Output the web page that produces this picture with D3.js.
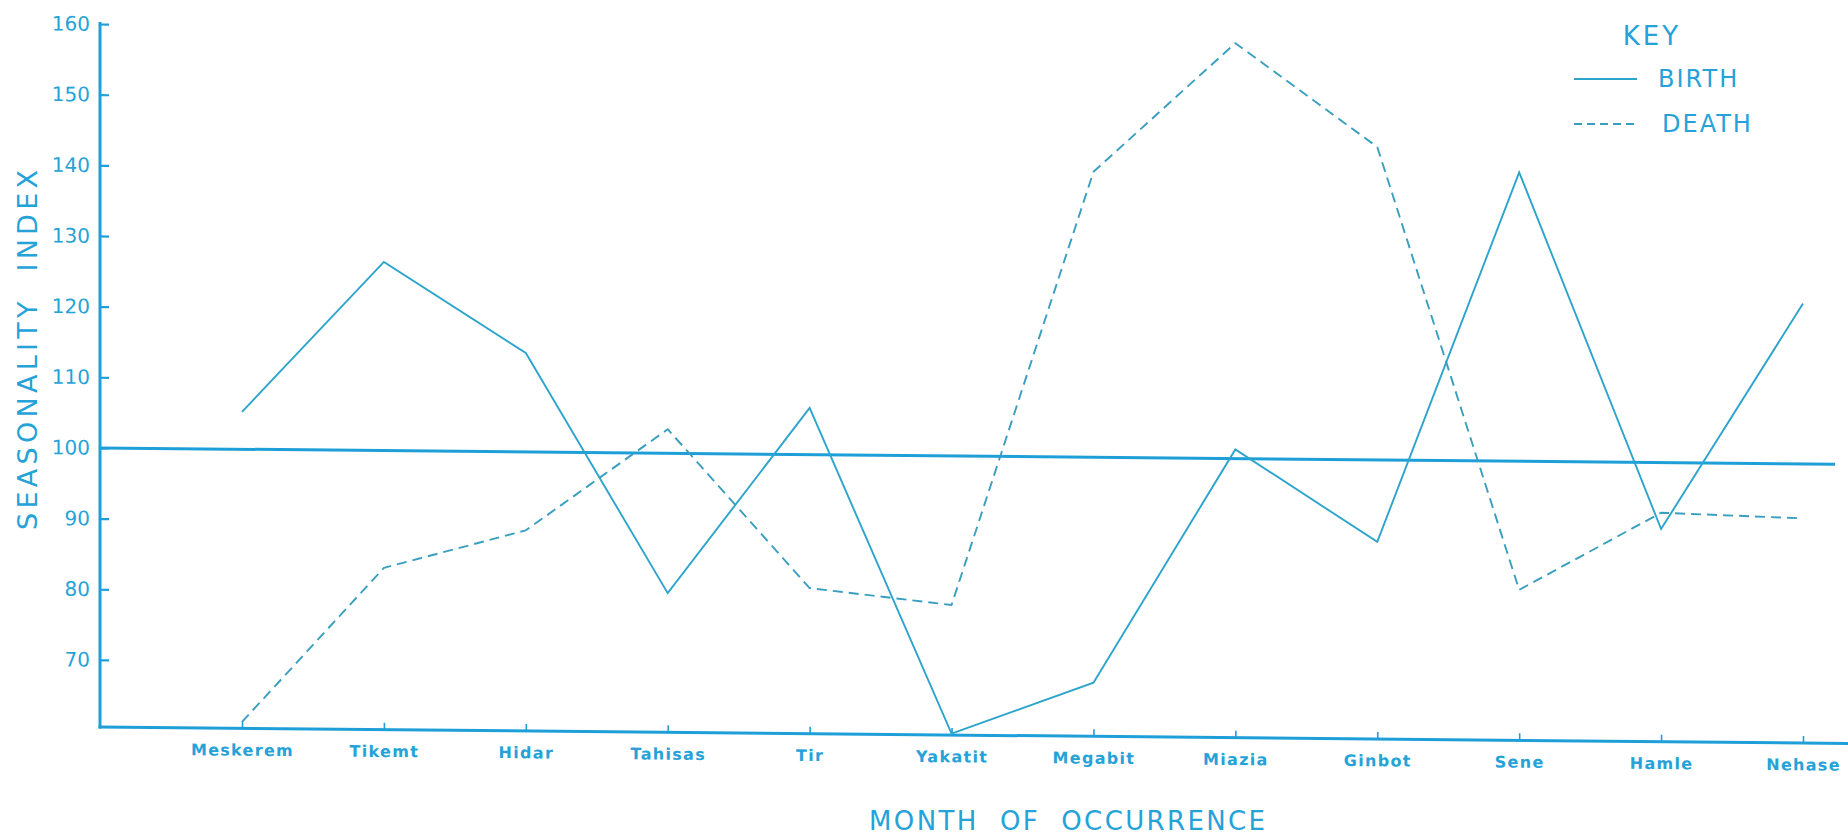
<!DOCTYPE html>
<html>
<head>
<meta charset="utf-8">
<script src="https://cdn.jsdelivr.net/npm/d3@7/dist/d3.min.js"></script>
<style>
  html, body { margin: 0; padding: 0; background: #ffffff; }
  svg { display: block; }
</style>
</head>
<body>
<svg id="chart" width="1848" height="835"></svg>
<script>
// ---- data ----
const months = ["Meskerem", "Tikemt", "Hidar", "Tahisas", "Tir", "Yakatit",
                "Megabit", "Miazia", "Ginbot", "Sene", "Hamle", "Nehase"];
const birth = [105.3, 126.7, 114.0, 80.2, 106.6, 60.7, 68.1, 101.3, 88.4, 140.9, 90.6, 122.7];
const death = [61.4, 83.4, 88.9, 103.4, 81.1, 78.9, 140.4, 158.8, 144.3, 81.8, 92.9, 92.3];
const yTicks = [70, 80, 90, 100, 110, 120, 130, 140, 150, 160];
const seriesNames = ["BIRTH", "DEATH"];
const referenceValue = 100;
const yMin = 60.5, yMax = 160;

// ---- styling ----
const axisColor = "#1f9fd8";
const textColor = "#25a2d8";
const birthColor = "#2da4cc";
const deathColor = "#3a9fbf";
const font = "'DejaVu Sans', sans-serif";

const svg = d3.select("#chart");

// the original drawing is slightly tilted: horizontal lines drop toward the right
const k = 0.0094;
const skewDeg = Math.atan(k) * 180 / Math.PI;
const g = svg.append("g")
  .attr("transform", `translate(0,${-100 * k}) skewY(${skewDeg})`);

const x = d3.scalePoint().domain(months).range([242, 1803]);
const y = d3.scaleLinear().domain([yMin, yMax]).range([727, 24]);

const axisLeftX = 100, xAxisEnd = 1860, refEnd = 1835;

// y axis
const yAxis = g.append("g")
  .attr("transform", `translate(${axisLeftX},0)`)
  .call(d3.axisLeft(y).tickValues(yTicks).tickSizeInner(-9).tickSizeOuter(0).tickPadding(10));
yAxis.select(".domain").remove();
yAxis.selectAll(".tick line").attr("stroke", axisColor).attr("stroke-width", 2.2);
yAxis.selectAll(".tick text")
  .attr("fill", textColor)
  .style("font-family", font)
  .style("font-size", "20px");
g.append("line")
  .attr("x1", axisLeftX).attr("x2", axisLeftX)
  .attr("y1", y(yMax) - 2).attr("y2", y(yMin) + 1.5)
  .attr("stroke", axisColor).attr("stroke-width", 3);

// x axis
const xAxis = g.append("g")
  .attr("transform", `translate(0,${y(yMin)})`)
  .call(d3.axisBottom(x).tickSizeInner(-7).tickSizeOuter(0).tickPadding(16));
xAxis.select(".domain").remove();
xAxis.selectAll(".tick line").attr("stroke", axisColor).attr("stroke-width", 1.6);
xAxis.selectAll(".tick text")
  .attr("fill", textColor)
  .style("font-family", font)
  .style("font-size", "16px")
  .style("font-weight", "bold")
  .style("letter-spacing", "1.3px");
g.append("line")
  .attr("x1", axisLeftX - 1.5).attr("x2", xAxisEnd)
  .attr("y1", y(yMin)).attr("y2", y(yMin))
  .attr("stroke", axisColor).attr("stroke-width", 3);

// reference line at 100
g.append("line")
  .attr("x1", axisLeftX).attr("x2", refEnd)
  .attr("y1", y(referenceValue)).attr("y2", y(referenceValue))
  .attr("stroke", axisColor).attr("stroke-width", 3);

// series
const line = d3.line().x((d, i) => x(months[i])).y(d => y(d));
g.append("path").datum(birth)
  .attr("d", line).attr("fill", "none")
  .attr("stroke", birthColor).attr("stroke-width", 1.9)
  .attr("stroke-linejoin", "miter");
g.append("path").datum(death)
  .attr("d", line).attr("fill", "none")
  .attr("stroke", deathColor).attr("stroke-width", 1.9)
  .attr("stroke-dasharray", "10,6")
  .attr("stroke-linejoin", "round");

// axis titles
svg.append("text")
  .attr("transform", "translate(37,350) rotate(-90)")
  .attr("text-anchor", "middle")
  .attr("textLength", 360).attr("lengthAdjust", "spacing")
  .attr("fill", textColor)
  .style("white-space", "pre")
  .style("font-family", font).style("font-size", "27px")
  .text("SEASONALITY  INDEX");

svg.append("text")
  .attr("x", 869).attr("y", 830)
  .attr("textLength", 396).attr("lengthAdjust", "spacing")
  .attr("fill", textColor)
  .style("white-space", "pre")
  .style("font-family", font).style("font-size", "26px")
  .text("MONTH  OF  OCCURRENCE");

// key
const key = svg.append("g");
key.append("text")
  .attr("x", 1652).attr("y", 45).attr("text-anchor", "middle")
  .attr("fill", textColor)
  .style("font-family", font).style("font-size", "26px")
  .style("letter-spacing", "3px")
  .text("KEY");
const keyRows = key.selectAll("g.row").data(seriesNames).enter().append("g")
  .attr("class", "row")
  .attr("transform", (d, i) => `translate(0,${i * 45})`);
keyRows.append("line")
  .attr("x1", 1574).attr("x2", 1637).attr("y1", 79).attr("y2", 79)
  .attr("stroke", (d, i) => i === 0 ? birthColor : deathColor)
  .attr("stroke-width", 2)
  .attr("stroke-dasharray", (d, i) => i === 0 ? null : "8,5");
keyRows.append("text")
  .attr("x", (d, i) => i === 0 ? 1658 : 1662).attr("y", 87)
  .attr("fill", textColor)
  .style("font-family", font).style("font-size", "24px")
  .style("letter-spacing", "2px")
  .text(d => d);
</script>
</body>
</html>
